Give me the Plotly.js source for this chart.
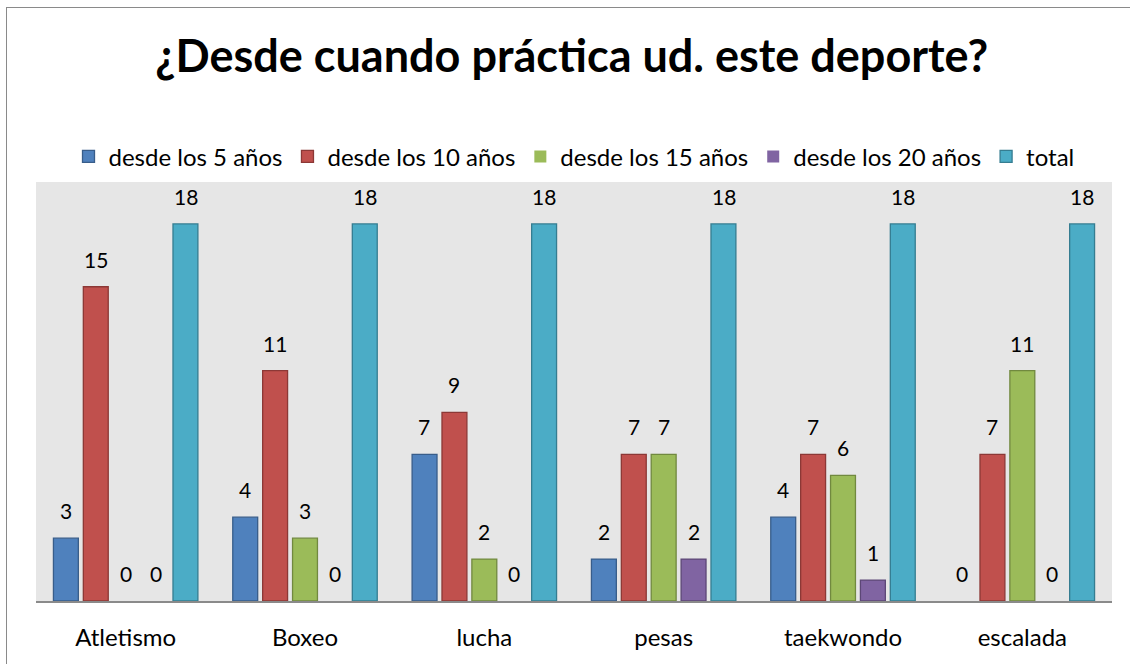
<!DOCTYPE html>
<html>
<head>
<meta charset="utf-8">
<script src="https://cdn.plot.ly/plotly-3.0.1.min.js"></script>
<style>
html,body{margin:0;padding:0;background:#fff;}
#frame{position:absolute;left:6px;top:7px;width:1200px;height:700px;border-left:1.5px solid #8a8a8a;border-top:1.5px solid #8a8a8a;pointer-events:none;z-index:5;}
#chart{width:1130px;height:664px;}
</style>
</head>
<body>
<div id="frame"></div>
<div id="chart"></div>
<script>
const categories = ["Atletismo", "Boxeo", "lucha", "pesas", "taekwondo", "escalada"];
const seriesNames = ["desde los 5 años", "desde los 10 años", "desde los 15 años", "desde los 20 años", "total"];
const desde5 = [3, 4, 7, 2, 4, 0];
const desde10 = [15, 11, 9, 7, 7, 7];
const desde15 = [0, 3, 2, 7, 6, 11];
const desde20 = [0, 0, 0, 2, 1, 0];
const total = [18, 18, 18, 18, 18, 18];
const fills = ["#4F81BD", "#C0504D", "#9BBB59", "#8064A2", "#4BACC6"];
const lines = ["#385D8A", "#8C3836", "#71893F", "#5C4776", "#357D91"];

const values = [desde5, desde10, desde15, desde20, total];
const font = "Lato, 'Open Sans', sans-serif";
const pitch = 30; // px between grouped bars
const traces = values.map((v, i) => ({
  type: "bar",
  name: seriesNames[i],
  x: categories,
  y: v,
  hoverinfo: "none",
  marker: {color: fills[i], line: {color: lines[i], width: v.map(d => d ? 1.3 : 0)}}
}));

const annotations = [];
values.forEach((v, i) => {
  v.forEach((d, j) => {
    annotations.push({
      x: categories[j], y: d, xref: "x", yref: "y",
      text: String(d), showarrow: false,
      xanchor: "center", yanchor: "bottom",
      xshift: (i - 2) * pitch, yshift: 13,
      font: {family: font, size: 21, color: "#000"}
    });
  });
});

const layout = {
  width: 1130, height: 664,
  paper_bgcolor: "#ffffff",
  plot_bgcolor: "#e6e6e6",
  margin: {l: 36, r: 18, t: 182, b: 63},
  barmode: "group",
  bargap: 0.1667,
  bargroupgap: 0.1667,
  font: {family: font, color: "#000"},
  title: {text: "<b>¿Desde cuando práctica ud. este deporte?</b>", font: {family: font, size: 45, color: "#000"}, x: 0.506, xanchor: "center", y: 0.915, yanchor: "middle"},
  showlegend: true,
  legend: {orientation: "h", x: 0.5, xanchor: "center", y: 1.06, yanchor: "middle", font: {family: font, size: 24, color: "#000"}, itemwidth: 30, traceorder: "normal"},
  annotations: annotations,
  xaxis: {type: "category", range: [-0.5, 5.5], showline: true, linecolor: "#8a8a8a", linewidth: 2, ticks: "", tickfont: {family: font, size: 24, color: "#000"}, ticklabelstandoff: 14, showgrid: false, zeroline: false},
  yaxis: {range: [0, 20], showticklabels: false, showgrid: false, zeroline: false, ticks: "", showline: false}
};

Plotly.newPlot("chart", traces, layout, {displayModeBar: false, staticPlot: true});
</script>
</body>
</html>
